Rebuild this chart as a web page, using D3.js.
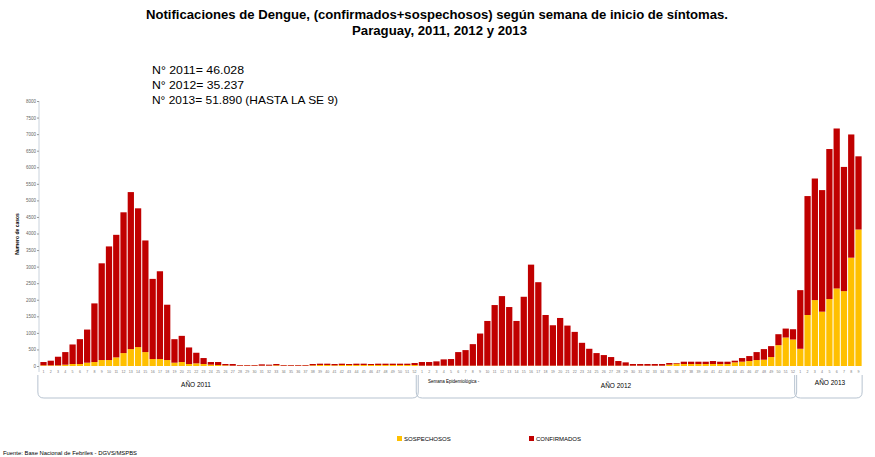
<!DOCTYPE html>
<html>
<head>
<meta charset="utf-8">
<script src="https://cdn.jsdelivr.net/npm/d3@7"></script>
<style>
  body { margin: 0; background: #fff; }
  svg { display: block; font-family: "Liberation Sans", Arial, sans-serif; }
</style>
</head>
<body>
<div id="chart"></div>
<script>
// categories
const years = ['2011', '2012', '2013'];
const weeksPerYear = [52, 52, 9];
const yTicks = [0, 500, 1000, 1500, 2000, 2500, 3000, 3500, 4000, 4500, 5000, 5500, 6000, 6500, 7000, 7500, 8000];

// series values, by week
const sospechosos2011 = [20, 20, 20, 40, 60, 60, 100, 120, 180, 180, 260, 390, 510, 570, 420, 210, 210, 180, 100, 120, 60, 80, 60, 40, 30, 20,
    10, 10, 10, 10, 10, 10, 20, 10, 10, 10, 10, 20, 30, 30, 20, 30, 30, 30, 30, 30, 30, 30, 30, 30, 30, 30];
const confirmados2011 = [100, 140, 260, 380, 590, 750, 1000, 1770, 2920, 3430, 3700, 4250, 4740, 4190, 3370, 2420, 2650, 1670, 710, 790, 500, 320, 180, 80, 90, 40,
    50, 20, 20, 20, 40, 30, 40, 20, 20, 20, 20, 40, 40, 40, 40, 40, 30, 40, 40, 30, 40, 40, 40, 40, 40, 60];
const sospechosos2012 = [10, 10, 10, 10, 10, 10, 10, 10, 10, 10, 10, 10, 10, 10, 10, 10, 10, 10, 10, 10, 10, 10, 10, 10, 10, 10,
    10, 10, 10, 10, 10, 10, 10, 10, 40, 70, 60, 60, 60, 60, 60, 60, 60, 110, 130, 150, 180, 190, 270, 630, 860, 800];
const confirmados2012 = [110, 110, 130, 190, 200, 410, 470, 650, 970, 1350, 1830, 2100, 1770, 1350, 2080, 3050, 2520, 1530, 1220, 1440, 1210, 1020, 690, 510, 380, 320,
    260, 140, 100, 50, 50, 50, 50, 50, 50, 20, 70, 70, 70, 70, 90, 70, 70, 50, 110, 150, 240, 320, 330, 330, 270, 310];
const sospechosos2013 = [520, 1540, 1990, 1640, 2020, 2340, 2260, 3270, 4120];
const confirmados2013 = [1770, 3590, 3670, 3670, 4530, 4830, 3750, 3720, 2210];

const seriesNames = ['SOSPECHOSOS', 'CONFIRMADOS'];
const seriesColors = ['#FFC000', '#C00000'];

const titleLines = ['Notificaciones de Dengue, (confirmados+sospechosos) según semana de inicio de síntomas.', 'Paraguay, 2011, 2012 y  2013'];
const notes = ['N° 2011= 46.028', 'N° 2012= 35.237', 'N° 2013= 51.890 (HASTA LA SE  9)'];

const sosp = [sospechosos2011, sospechosos2012, sospechosos2013];
const conf = [confirmados2011, confirmados2012, confirmados2013];
const rows = [];
years.forEach((yr, i) => {
    for (let w = 0; w < weeksPerYear[i]; w++) {
        rows.push({ key: `${yr}-${w + 1}`, year: yr, week: w + 1, SOSPECHOSOS: sosp[i][w], CONFIRMADOS: conf[i][w] });
    }
});

const width = 875, height = 457;
const svg = d3.select('#chart').append('svg').attr('width', width).attr('height', height);

const x = d3.scaleBand().domain(rows.map(d => d.key)).range([40, 862]).paddingInner(0.14).paddingOuter(0.05);
const y = d3.scaleLinear().domain([0, 8000]).range([366, 101]);
const stack = d3.stack().keys(seriesNames)(rows);

// title
svg.append('g').selectAll('text')
    .data(titleLines)
    .enter()
    .append('text')
    .attr('x', (d, i) => i ? 439.5 : 437)
    .attr('y', (d, i) => i ? 35 : 19)
    .attr('text-anchor', 'middle')
    .attr('textLength', (d, i) => i ? 175 : 582)
    .attr('lengthAdjust', 'spacingAndGlyphs')
    .style('font-size', '13px')
    .style('font-weight', 'bold')
    .text(d => d);

svg.append('g').selectAll('text')
    .data(notes)
    .enter()
    .append('text')
    .attr('x', 152)
    .attr('y', (d, i) => 74 + i * 15)
    .attr('textLength', (d, i) => i === 2 ? 186 : 92)
    .attr('lengthAdjust', 'spacingAndGlyphs')
    .style('font-size', '11.5px')
    .text(d => d);

// y axis
const yAxis = svg.append('g')
    .attr('transform', 'translate(39,0)')
    .call(d3.axisLeft(y).tickValues(yTicks).tickSize(2).tickPadding(1).tickFormat(d3.format('d')));
yAxis.select('.domain').attr('stroke', '#c9d2dc').attr('d', 'M0,101V372');
yAxis.selectAll('.tick line').attr('stroke', '#999');
yAxis.selectAll('.tick text').style('font-size', '4.5px').style('fill', '#666').style('font-family', 'Liberation Sans, sans-serif');

svg.append('text')
    .attr('transform', 'translate(19,234) rotate(-90)')
    .attr('text-anchor', 'middle')
    .style('font-size', '5px')
    .style('font-weight', 'bold')
    .text('Numero de casos');

// bars
svg.append('g').selectAll('g')
    .data(stack)
    .enter()
    .append('g')
    .attr('fill', (d, i) => seriesColors[i])
    .selectAll('rect')
    .data(d => d)
    .enter()
    .append('rect')
    .attr('x', d => x(d.data.key))
    .attr('width', x.bandwidth())
    .attr('y', d => y(d[1]))
    .attr('height', d => Math.max(0, y(d[0]) - y(d[1])));

// week labels
svg.append('g').selectAll('text')
    .data(rows)
    .enter()
    .append('text')
    .attr('x', d => x(d.key) + x.bandwidth() / 2)
    .attr('y', 373)
    .attr('text-anchor', 'middle')
    .style('font-size', '3.6px')
    .style('fill', '#777')
    .text(d => d.week);

// year brackets
const step = x.step();
const yearBoxes = years.map(yr => {
    const keys = rows.filter(d => d.year === yr).map(d => d.key);
    return { year: yr, x0: x(keys[0]) - 2.5, x1: x(keys[keys.length - 1]) + x.bandwidth() + 0.5 };
});
const boxTop = 375, boxBottom = 398, r = 6;
svg.append('g').selectAll('path')
    .data(yearBoxes)
    .enter()
    .append('path')
    .attr('d', b => `M${b.x0},${boxTop}V${boxBottom - r}Q${b.x0},${boxBottom} ${b.x0 + r},${boxBottom}H${b.x1 - r}Q${b.x1},${boxBottom} ${b.x1},${boxBottom - r}V${boxTop}`)
    .attr('fill', 'none')
    .attr('stroke', '#b7c3d0')
    .attr('stroke-width', 1);

svg.append('g').selectAll('text')
    .data(yearBoxes)
    .enter()
    .append('text')
    .attr('x', (b, i) => [196, 616, 830][i])
    .attr('y', (b, i) => [387, 388, 385][i])
    .attr('text-anchor', 'middle')
    .style('font-size', '6.5px')
    .text(b => `AÑO ${b.year}`);

svg.append('text')
    .attr('x', 428)
    .attr('y', 383)
    .style('font-size', '4.5px')
    .text('Semana Epidemiológica -');

// legend
const legend = svg.append('g').selectAll('g')
    .data(seriesNames)
    .enter()
    .append('g')
    .attr('transform', (d, i) => `translate(${[397, 529][i]},436)`);
legend.append('rect')
    .attr('width', 5)
    .attr('height', 5)
    .attr('fill', (d, i) => seriesColors[i]);
legend.append('text')
    .attr('x', 7)
    .attr('y', 5)
    .style('font-size', '6px')
    .text(d => d);

svg.append('text')
    .attr('x', 3)
    .attr('y', 455)
    .attr('textLength', 134)
    .attr('lengthAdjust', 'spacingAndGlyphs')
    .style('font-size', '5.5px')
    .text('Fuente: Base Nacional de Febriles - DGVS/MSPBS');
</script>
</body>
</html>
